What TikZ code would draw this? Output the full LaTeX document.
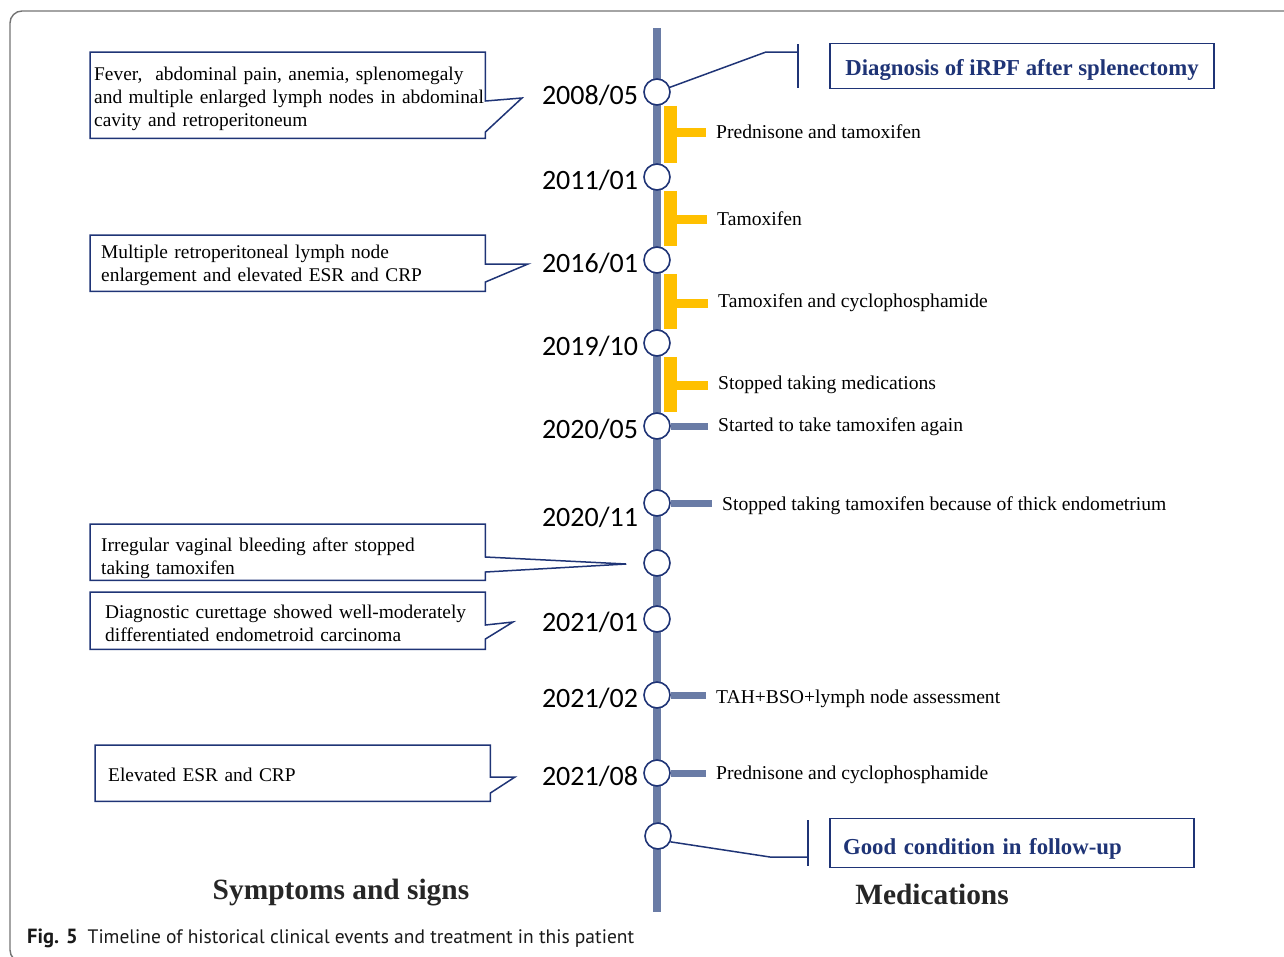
\documentclass[tikz,border=0pt]{standalone}
\usepackage{fontspec}
\setmainfont{Liberation Serif}
\newfontfamily\datefont{Carlito}
\newfontfamily\capfont{PT Sans}
\usepackage{tikz}
\usetikzlibrary{positioning,calc}
\definecolor{navy}{RGB}{31,52,118}
\definecolor{axisblue}{RGB}{106,124,166}
\definecolor{medyellow}{RGB}{255,192,0}

\begin{document}
\begin{tikzpicture}[x=1pt,y=-1pt]
\tikzstyle{event} = [circle, draw=navy, fill=white, line width=1.6pt, minimum size=26pt, inner sep=0pt]
\tikzstyle{date} = [font=\datefont\fontsize{28}{30}\selectfont, inner sep=0pt, yshift=-3pt]
\tikzstyle{med} = [font=\fontsize{19.6}{23}\selectfont, anchor=west, inner sep=0pt]
\tikzstyle{medbar} = [medyellow, line width=13pt]
\tikzstyle{medarm} = [medyellow, line width=9pt, shorten >=10pt]
\tikzstyle{bluearm} = [axisblue, line width=7pt, shorten >=10pt]
\tikzstyle{sym} = [anchor=north west, inner sep=0pt]
\tikzstyle{symtext} = [anchor=west, font=\fontsize{19.4}{23}\selectfont, align=left, inner sep=0pt]
\tikzstyle{callout} = [draw=navy, line width=1.5pt, line join=miter]
\tikzstyle{goal} = [draw=navy, line width=1.6pt, text=navy, text depth=5pt, font=\bfseries\fontsize{22.8}{26}\selectfont]
\tikzstyle{leader} = [navy, line width=1.5pt]
\tikzstyle{head} = [font=\bfseries\fontsize{29.4}{32}\selectfont, text=black!85]

\useasboundingbox (0,0) rectangle (1284,956);
\draw[black!55, line width=1.4pt, rounded corners=12pt] (10,11) rectangle (1310,962);

% timeline
\coordinate (top) at (657,28);
\coordinate (bot) at (657,912);
\draw[axisblue, line width=8pt] (top) -- (bot);

\node[event] (c1) at (657,92) {};
\node[event] (c2) at (657,177) {};
\node[event] (c3) at (657,260) {};
\node[event] (c4) at (657,343) {};
\node[event] (c5) at (657,426) {};
\node[event] (c6) at (657,503) {};
\node[event] (c7) at (657,563) {};
\node[event] (c8) at (657,619) {};
\node[event] (c9) at (657,695) {};
\node[event] (c10) at (657,773) {};
\node[event] (c11) at (658,836) {};

\node[date, left=5pt of c1] (d1) {2008/05};
\node[date, left=5pt of c2] (d2) {2011/01};
\node[date, left=5pt of c3] (d3) {2016/01};
\node[date, left=5pt of c4] (d4) {2019/10};
\node[date, left=5pt of c5] (d5) {2020/05};
\node[date, left=5pt of c6, yshift=-11pt] (d6) {2020/11};
\node[date, left=5pt of c8] (d8) {2021/01};
\node[date, left=5pt of c9] (d9) {2021/02};
\node[date, left=5pt of c10] (d10) {2021/08};

% medications
\node[med] (m1) at (716,132) {Prednisone and tamoxifen};
\node[med] (m2) at (717,219) {Tamoxifen};
\node[med] (m3) at (718,303) {Tamoxifen and cyclophosphamide};
\node[med] (m4) at (718,385) {Stopped taking medications};
\node[med] (m5) at (718,427) {Started to take tamoxifen again};
\node[med] (m6) at (722,506) {Stopped taking tamoxifen because of thick endometrium};
\node[med] (m7) at (716,699) {TAH+BSO+lymph node assessment};
\node[med] (m8) at (716,775) {Prednisone and cyclophosphamide};

\draw[medbar] ($(c1.south)+(13.5,0)$) -- ($(c2.north)+(13.5,0)$);
\draw[medbar] ($(c2.south)+(13.5,0)$) -- ($(c3.north)+(13.5,0)$);
\draw[medbar] ($(c3.south)+(13.5,0)$) -- ($(c4.north)+(13.5,0)$);
\draw[medbar] ($(c4.south)+(13.5,0)$) -- ($(c5.north)+(13.5,0)$);
\draw[medarm] (m1.west -| c1.east) -- (m1.west);
\draw[medarm] (m2.west -| c2.east) -- (m2.west);
\draw[medarm] (m3.west -| c3.east) -- (m3.west);
\draw[medarm] (m4.west -| c4.east) -- (m4.west);
\draw[bluearm] (c5.east) -- (c5.east -| m5.west);
\draw[bluearm] (c6.east) -- (c6.east -| m6.west);
\draw[bluearm] (c9.east) -- (c9.east -| m7.west);
\draw[bluearm] (c10.east) -- (c10.east -| m8.west);

% symptoms
\node[sym, minimum width=395pt, minimum height=86pt] (s1) at (90,52) {};
\node[sym, minimum width=395pt, minimum height=56pt] (s2) at (90,235) {};
\node[sym, minimum width=395pt, minimum height=56pt] (s3) at (90,524) {};
\node[sym, minimum width=395pt, minimum height=57pt] (s4) at (90,592) {};
\node[sym, minimum width=395pt, minimum height=56pt] (s5) at (95,745) {};
\node[symtext, text width=390pt] (s1t) at ($(s1.west)+(4,4)$)
  {Fever,\ \ abdominal pain, anemia, splenomegaly\\and multiple enlarged lymph nodes in abdominal\\cavity and retroperitoneum};
\node[symtext, text width=380pt] (s2t) at ($(s2.west)+(11,2)$)
  {Multiple retroperitoneal lymph node\\enlargement and elevated ESR and CRP};
\node[symtext, text width=380pt] (s3t) at ($(s3.west)+(11,6)$)
  {Irregular vaginal bleeding after stopped\\taking tamoxifen};
\node[symtext, text width=375pt] (s4t) at ($(s4.west)+(15,3)$)
  {Diagnostic curettage showed well-moderately\\differentiated endometroid carcinoma};
\node[symtext, text width=370pt] (s5t) at ($(s5.west)+(13,2)$)
  {Elevated ESR and CRP};

\coordinate (t1) at (522,98);
\coordinate (t2) at (528,264);
\coordinate (t3) at ($(c7.west)+(-17,1)$);
\coordinate (t4) at (513,622);
\coordinate (t5) at (515,777);
\draw[callout] (s1.north west) -- (s1.north east) -- ($(s1.north east)+(0,49)$) -- (t1)
  -- ($(s1.north east)+(0,80)$) -- (s1.south east) -- (s1.south west) -- cycle;
\draw[callout] (s2.north west) -- (s2.north east) -- ($(s2.north east)+(0,29)$) -- (t2)
  -- ($(s2.north east)+(0,47)$) -- (s2.south east) -- (s2.south west) -- cycle;
\draw[callout] (s3.north west) -- (s3.north east) -- ($(s3.north east)+(0,33)$) -- (t3)
  -- ($(s3.north east)+(0,48)$) -- (s3.south east) -- (s3.south west) -- cycle;
\draw[callout] (s4.north west) -- (s4.north east) -- ($(s4.north east)+(0,33)$) -- (t4)
  -- ($(s4.north east)+(0,47)$) -- (s4.south east) -- (s4.south west) -- cycle;
\draw[callout] (s5.north west) -- (s5.north east) -- ($(s5.north east)+(0,32)$) -- (t5)
  -- ($(s5.north east)+(0,48)$) -- (s5.south east) -- (s5.south west) -- cycle;

% outcome boxes
\node[goal, text height=24pt, minimum width=384pt, minimum height=45pt] (diag) at (1022,66) {Diagnosis of iRPF after splenectomy};
\node[goal, text height=27pt, text width=338pt, inner xsep=13pt, minimum height=49pt, align=left] (good) at (1012,843) {Good condition in follow-up};
\coordinate (k1) at (766,52);
\coordinate (b1) at (798,66);
\draw[leader] (c1.20) -- (k1) -- (k1 -| b1);
\draw[leader] ($(b1)+(0,-22)$) -- ($(b1)+(0,22)$);
\coordinate (k2) at (770,857);
\coordinate (b2) at (808,843);
\draw[leader] (c11.-25) -- (k2) -- (k2 -| b2);
\draw[leader] ($(b2)+(0,-23)$) -- ($(b2)+(0,23)$);

\node[head] (hs) at (341,893) {Symptoms and signs};
\node[head] (hm) at (932,894) {Medications};

\node[anchor=west, inner sep=0pt, font=\capfont\fontsize{19.5}{22}\selectfont, text=black!90] (cap) at (27,938)
  {\textbf{\fontsize{20.5}{22}\selectfont Fig. 5}\hspace{10pt}Timeline of historical clinical events and treatment in this patient};
\end{tikzpicture}
\end{document}
